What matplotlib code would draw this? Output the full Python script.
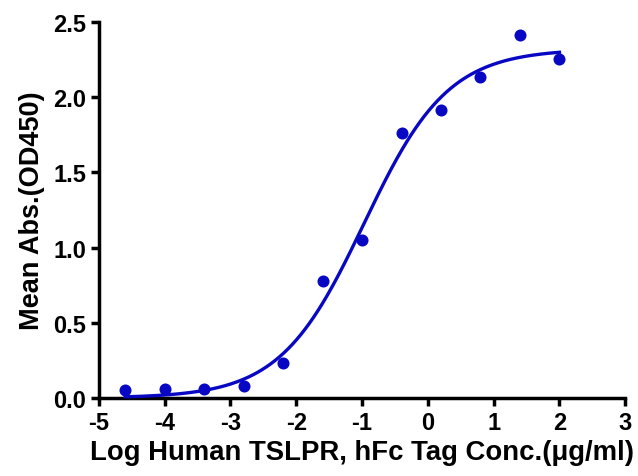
import numpy as np
import matplotlib.pyplot as plt

plt.rcParams['font.family'] = ['Liberation Sans', 'DejaVu Sans']
plt.rcParams['font.weight'] = 'bold'
plt.rcParams['axes.unicode_minus'] = False

# measured points
log_conc = [-4.6, -4.0, -3.4, -2.8, -2.2, -1.6, -1.0, -0.4, 0.2, 0.8, 1.4, 2.0]
mean_abs = [0.053, 0.06, 0.06, 0.08, 0.233, 0.78, 1.05, 1.76, 1.915, 2.135, 2.41, 2.255]

# 4PL fit parameters
bottom = 0.0
top = 2.32
log_ec50 = -0.97
hill = 0.68

blue = '#0707C4'

xs = np.linspace(log_conc[0], log_conc[-1], 300)
ys = bottom + (top - bottom) / (1 + 10 ** ((log_ec50 - xs) * hill))

fig = plt.figure(figsize=(6.38, 4.77), dpi=100)
ax = fig.add_axes([0.155, 0.1635, 0.825, 0.7885])

ax.plot(xs, ys, color=blue, lw=2.4, clip_on=False, zorder=3)
ax.scatter(log_conc, mean_abs, s=75, color=blue, clip_on=False, zorder=4, linewidths=0)

ax.set_xlim(-5, 3)
ax.set_ylim(0, 2.5)
ax.set_xticks(range(-5, 4))
ax.set_yticks([0, 0.5, 1.0, 1.5, 2.0, 2.5])
ax.set_yticklabels(['0.0', '0.5', '1.0', '1.5', '2.0', '2.5'])

for s in ['top', 'right']:
    ax.spines[s].set_visible(False)
for s in ['left', 'bottom']:
    ax.spines[s].set_linewidth(2.5)

ax.tick_params(width=2.5, length=6, labelsize=17, pad=3)
for lab in ax.get_xticklabels() + ax.get_yticklabels():
    lab.set_fontweight('bold')

ax.set_xlabel('Log Human TSLPR, hFc Tag Conc.(\u03bcg/ml)', fontsize=19.8, fontweight='bold', labelpad=4)
ax.set_ylabel('Mean Abs.(OD450)', fontsize=19.5, fontweight='bold', labelpad=6)

fig.savefig('out.png', dpi=100)
